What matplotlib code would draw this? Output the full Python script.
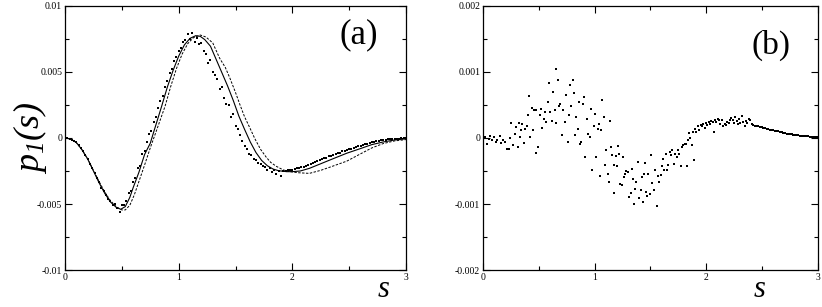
import numpy as np
from matplotlib import pyplot as plt

plt.rcParams['font.family'] = ['Liberation Serif', 'DejaVu Serif']
plt.rcParams['mathtext.fontset'] = 'custom'
plt.rcParams['mathtext.rm'] = 'Liberation Serif:italic'
plt.rcParams['mathtext.it'] = 'Liberation Serif:italic'

# panel (a): model curves, values in units of 1e-3
sa_solid = [0, 0.05, 0.1, 0.15, 0.2, 0.25, 0.3, 0.35, 0.4, 0.45, 0.49, 0.53, 0.57, 0.6, 0.65,
            0.7, 0.75, 0.78, 0.85, 0.9, 0.95, 1.0, 1.05, 1.1, 1.15, 1.19, 1.23, 1.28, 1.33,
            1.38, 1.43, 1.48, 1.53, 1.58, 1.63, 1.68, 1.73, 1.78, 1.83, 1.88, 1.95, 2.0,
            2.07, 2.15, 2.25, 2.35, 2.48, 2.6, 2.7, 2.8, 2.9, 3.0]
pa_solid = [0, -0.08, -0.35, -0.9, -1.6, -2.5, -3.4, -4.2, -4.85, -5.25, -5.4, -5.2, -4.5,
            -3.75, -2.6, -1.25, -0.4, 0.45, 2.4, 3.85, 5.1, 6.2, 7.05, 7.55, 7.75, 7.7, 7.45,
            6.95, 5.95, 4.95, 3.95, 2.85, 1.65, 0.65, -0.3, -1.1, -1.7, -2.1, -2.35, -2.48,
            -2.55, -2.55, -2.5, -2.3, -1.95, -1.6, -1.15, -0.8, -0.5, -0.3, -0.15, -0.06]

sa_dash = [0, 0.05, 0.1, 0.15, 0.2, 0.25, 0.3, 0.35, 0.4, 0.45, 0.5, 0.53, 0.57, 0.61, 0.65,
           0.7, 0.75, 0.8, 0.88, 0.93, 0.98, 1.03, 1.08, 1.13, 1.19, 1.24, 1.3, 1.36, 1.41,
           1.45, 1.5, 1.54, 1.58, 1.63, 1.67, 1.72, 1.77, 1.81, 1.86, 1.92, 1.98, 2.05, 2.15,
           2.25, 2.35, 2.48, 2.6, 2.7, 2.8, 2.9, 3.0]
pa_dash = [0, -0.08, -0.35, -0.9, -1.6, -2.45, -3.3, -4.1, -4.75, -5.2, -5.45, -5.45, -5.1,
           -4.3, -3.3, -2.05, -0.75, 0.45, 2.4, 3.9, 5.25, 6.35, 7.15, 7.6, 7.8, 7.65, 7.2,
           6.05, 5.35, 4.55, 3.45, 2.5, 1.6, 0.7, -0.05, -0.85, -1.45, -1.85, -2.15, -2.42,
           -2.55, -2.63, -2.68, -2.45, -2.15, -1.75, -1.2, -0.75, -0.42, -0.22, -0.12]

# panel (a): data points
sa_pts = [0.0, 0.02, 0.04, 0.06, 0.08, 0.1, 0.12, 0.14, 0.16, 0.18, 0.2, 0.22, 0.24, 0.26,
          0.28, 0.3, 0.32, 0.34, 0.36, 0.38, 0.4, 0.42, 0.44, 0.46, 0.48, 0.5, 0.52, 0.54,
          0.56, 0.58, 0.6, 0.62, 0.64, 0.66, 0.68, 0.7, 0.72, 0.74, 0.76, 0.78, 0.8, 0.82,
          0.84, 0.86, 0.88, 0.9, 0.92, 0.94, 0.96, 0.98, 1.0, 1.02, 1.04, 1.06, 1.08, 1.1,
          1.12, 1.14, 1.16, 1.18, 1.2, 1.22, 1.24, 1.26, 1.28, 1.3, 1.32, 1.34, 1.36, 1.38,
          1.4, 1.42, 1.44, 1.46, 1.48, 1.5, 1.52, 1.54, 1.56, 1.58, 1.6, 1.62, 1.64, 1.66,
          1.68, 1.7, 1.72, 1.74, 1.76, 1.78, 1.8, 1.82, 1.84, 1.86, 1.88, 1.9, 1.92, 1.94,
          1.96, 1.98, 2.0, 2.02, 2.04, 2.06, 2.08, 2.1, 2.12, 2.14, 2.16, 2.18, 2.2, 2.22,
          2.24, 2.26, 2.28, 2.3, 2.32, 2.34, 2.36, 2.38, 2.4, 2.42, 2.44, 2.46, 2.48, 2.5,
          2.52, 2.54, 2.56, 2.58, 2.6, 2.62, 2.64, 2.66, 2.68, 2.7, 2.72, 2.74, 2.76, 2.78,
          2.8, 2.82, 2.84, 2.86, 2.88, 2.9, 2.92, 2.94, 2.96, 2.98, 3.0]
pa_pts = [0.0, -0.02, -0.05, -0.12, -0.2, -0.33, -0.5, -0.75, -1.0, -1.3, -1.6, -1.95, -2.3,
          -2.65, -3.05, -3.35, -3.75, -4.0, -4.35, -4.6, -4.8, -5.05, -5.0, -5.3, -5.6, -5.1,
          -5.05, -4.8, -4.2, -4.0, -3.3, -3.0, -2.3, -2.1, -1.2, -1.0, -0.3, 0.3, 0.55, 1.2,
          1.6, 2.3, 2.8, 3.2, 3.9, 4.3, 4.9, 5.2, 5.8, 6.1, 6.6, 6.8, 7.3, 7.4, 7.9, 7.5,
          7.95, 7.3, 7.6, 7.1, 7.2, 6.6, 6.4, 5.7, 5.9, 5.0, 4.8, 4.5, 3.7, 3.9, 3.0, 2.6,
          2.5, 1.6, 1.8, 0.9, 0.7, 0.2, -0.2, -0.6, -0.8, -1.2, -1.3, -1.6, -1.7, -1.9, -2.0,
          -2.1, -2.2, -2.4, -2.3, -2.55, -2.4, -2.7, -2.5, -2.85, -2.5, -2.5, -2.45, -2.4,
          -2.45, -2.35, -2.3, -2.3, -2.2, -2.2, -2.1, -2.05, -2.0, -1.9, -1.85, -1.75, -1.7,
          -1.6, -1.55, -1.5, -1.4, -1.35, -1.3, -1.2, -1.15, -1.1, -1.0, -0.95, -0.9, -0.85,
          -0.8, -0.72, -0.68, -0.62, -0.57, -0.52, -0.47, -0.42, -0.38, -0.33, -0.29, -0.25,
          -0.21, -0.17, -0.14, -0.12, -0.1, -0.08, -0.07, -0.06, -0.05, -0.04, -0.03, -0.02,
          -0.02]

# panel (b): difference points, values in units of 1e-3
sb_pts = [0.015, 0.036, 0.05, 0.066, 0.084, 0.099, 0.114, 0.128, 0.149, 0.164, 0.179, 0.2,
          0.215, 0.233, 0.239, 0.248, 0.27, 0.284, 0.299, 0.314, 0.32, 0.329, 0.344, 0.352,
          0.367, 0.379, 0.394, 0.403, 0.412, 0.424, 0.436, 0.448, 0.457, 0.472, 0.478, 0.493,
          0.508, 0.523, 0.532, 0.544, 0.559, 0.568, 0.583, 0.592, 0.604, 0.621, 0.627, 0.642,
          0.651, 0.657, 0.672, 0.681, 0.693, 0.705, 0.717, 0.732, 0.747, 0.759, 0.771, 0.78,
          0.792, 0.804, 0.816, 0.828, 0.837, 0.849, 0.86, 0.869, 0.881, 0.896, 0.905, 0.917,
          0.929, 0.941, 0.956, 0.965, 0.977, 0.995, 1.004, 1.016, 1.031, 1.04, 1.052, 1.061,
          1.07, 1.082, 1.094, 1.105, 1.117, 1.126, 1.135, 1.147, 1.159, 1.171, 1.177, 1.189,
          1.201, 1.21, 1.219, 1.231, 1.243, 1.255, 1.264, 1.276, 1.285, 1.3, 1.309, 1.321,
          1.33, 1.344, 1.353, 1.362, 1.374, 1.392, 1.401, 1.413, 1.422, 1.431, 1.443, 1.455,
          1.464, 1.47, 1.482, 1.494, 1.506, 1.515, 1.53, 1.542, 1.554, 1.566, 1.578, 1.59,
          1.601, 1.613, 1.625, 1.637, 1.649, 1.661, 1.673, 1.685, 1.697, 1.709, 1.721, 1.733,
          1.745, 1.757, 1.769, 1.781, 1.793, 1.805, 1.817, 1.829, 1.84, 1.846, 1.858, 1.87,
          1.882, 1.888, 1.9, 1.912, 1.924, 1.936, 1.948, 1.96, 1.972, 1.984, 1.996, 2.008,
          2.02, 2.032, 2.044, 2.056, 2.068, 2.08, 2.091, 2.103, 2.115, 2.127, 2.139, 2.151,
          2.163, 2.175, 2.187, 2.199, 2.211, 2.223, 2.235, 2.247, 2.259, 2.271, 2.283, 2.294,
          2.306, 2.318, 2.33, 2.342, 2.354, 2.366, 2.378, 2.39, 2.405, 2.42, 2.435, 2.45,
          2.465, 2.48, 2.495, 2.51, 2.525, 2.54, 2.554, 2.569, 2.584, 2.6, 2.614, 2.629,
          2.644, 2.659, 2.674, 2.689, 2.704, 2.719, 2.734, 2.749, 2.764, 2.779, 2.794, 2.809,
          2.823, 2.838, 2.853, 2.868, 2.883, 2.898, 2.913, 2.928, 2.943, 2.958, 2.973, 2.988]
pb_pts = [0.015, -0.096, -0.01, 0.03, -0.035, 0.015, -0.06, -0.035, 0.025, -0.07, -0.025,
          -0.06, -0.17, -0.167, 0.0, 0.228, -0.11, 0.066, 0.167, -0.137, 0.233, 0.015, 0.127,
          0.218, -0.076, 0.142, 0.177, 0.344, 0.633, 0.015, 0.461, 0.116, 0.43, 0.43, -0.228,
          -0.137, 0.344, 0.446, 0.152, 0.294, 0.395, 0.243, 0.547, 0.835, 0.395, 0.258, 0.699,
          0.42, 0.228, 1.038, 0.876, 0.481, 0.522, 0.04, 0.42, 0.243, 0.648, -0.06, 0.344, 0.8,
          0.481, 0.876, 0.684, 0.04, 0.319, 0.132, 0.547, -0.096, -0.06, 0.522, 0.623, -0.289,
          0.294, 0.066, 0.015, 0.446, -0.481, 0.177, 0.37, -0.289, 0.142, 0.208, -0.582, 0.116,
          0.582, 0.319, -0.415, -0.187, -0.542, -0.668, 0.258, -0.137, -0.263, -0.415, -0.835,
          -0.278, -0.43, -0.127, -0.248, -0.704, -0.719, -0.289, -0.592, -0.552, -0.501,
          -0.516, -0.896, -0.835, -0.466, -0.618, -0.997, -0.77, -0.668, -0.365, -0.906,
          -0.795, -0.592, -0.972, -0.552, -0.38, -0.82, -0.886, -0.552, -0.846, -0.263,
          -0.684, -0.795, -0.491, -1.023, -0.582, -0.668, -0.567, -0.43, -0.314, -0.491,
          -0.238, -0.491, -0.415, -0.213, -0.263, -0.187, -0.39, -0.248, -0.289, -0.177,
          -0.248, -0.43, -0.137, -0.111, -0.086, -0.086, -0.43, -0.035, 0.076, 0.005, -0.101,
          0.091, -0.329, 0.142, 0.091, 0.177, 0.127, 0.192, 0.177, 0.208, 0.157, 0.228, 0.192,
          0.243, 0.218, 0.258, 0.243, 0.091, 0.268, 0.243, 0.294, 0.278, 0.218, 0.268, 0.177,
          0.208, 0.192, 0.243, 0.228, 0.268, 0.309, 0.268, 0.228, 0.319, 0.258, 0.208, 0.294,
          0.228, 0.329, 0.243, 0.177, 0.258, 0.228, 0.289, 0.268, 0.208, 0.192, 0.187, 0.177,
          0.177, 0.167, 0.167, 0.152, 0.157, 0.142, 0.137, 0.127, 0.127, 0.116, 0.106, 0.101,
          0.101, 0.091, 0.086, 0.076, 0.076, 0.066, 0.066, 0.056, 0.056, 0.051, 0.046, 0.04,
          0.04, 0.035, 0.035, 0.03, 0.03, 0.025, 0.025, 0.02, 0.02, 0.015, 0.015, 0.015]

fig = plt.figure(figsize=(8.22, 3.07), dpi=100)
ax1 = fig.add_axes([0.0791, 0.1205, 0.4148, 0.86])
ax2 = fig.add_axes([0.5876, 0.1205, 0.4075, 0.86])


def style(ax, ymax, ylabels, sx):
    ax.set_xlim(0, 3)
    ax.set_ylim(-ymax, ymax)
    ax.set_xticks([0, 1, 2, 3])
    ax.set_xticklabels(['0', '1', '2', '3'])
    ax.set_xticks([0.5, 1.5, 2.5], minor=True)
    ax.set_yticks([-ymax, -ymax / 2, 0, ymax / 2, ymax])
    ax.set_yticklabels(ylabels)
    ax.set_yticks([-0.75 * ymax, -0.25 * ymax, 0.25 * ymax, 0.75 * ymax], minor=True)
    ax.tick_params(which='both', direction='in', top=True, right=True,
                   labelsize=7, width=0.8, pad=2)
    ax.tick_params(which='major', length=5)
    ax.tick_params(which='minor', length=3)
    for sp in ax.spines.values():
        sp.set_linewidth(0.9)
    # axis label "s" sits low at the right, as in the original figure
    ax.text(sx, -0.075, r'$s$', transform=ax.transAxes, fontsize=22,
            ha='center', va='center')


style(ax1, 0.01, ['-0.01', '-0.005', '0', '0.005', '0.01'], 0.933)
style(ax2, 0.002, ['-0.002', '-0.001', '0', '0.001', '0.002'], 0.825)

ax1.plot(sa_solid, np.array(pa_solid) * 1e-3, color='black', lw=0.8)
ax1.plot(sa_dash, np.array(pa_dash) * 1e-3, color='black', lw=0.7, dashes=(2.5, 1.5))
ax1.plot(sa_pts, np.array(pa_pts) * 1e-3, 's', color='black', ms=1.6, mew=0)
ax2.plot(sb_pts, np.array(pb_pts) * 1e-3, 's', color='black', ms=1.6, mew=0)

ax1.text(0.862, 0.89, '(a)', transform=ax1.transAxes, fontsize=25, ha='center', va='center')
ax2.text(0.86, 0.852, '(b)', transform=ax2.transAxes, fontsize=24, ha='center', va='center')
fig.text(0.036, 0.55, r'$p_1(s)$', rotation=90, fontsize=26, ha='center', va='center')

plt.savefig('out.png')
